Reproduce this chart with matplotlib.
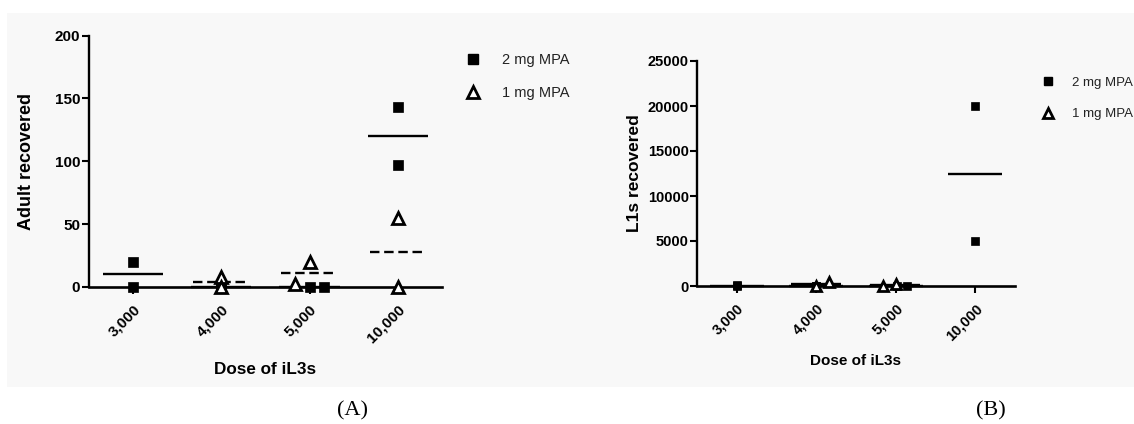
import numpy as np
import matplotlib
matplotlib.use("Agg")
import matplotlib.pyplot as plt
from matplotlib.lines import Line2D
from matplotlib.patches import Rectangle

# ---------------- data ----------------
doses = ["3,000", "4,000", "5,000", "10,000"]

# Panel A: adult recovered
adult_2mg = [[20, 0], [0, 0], [0, 0], [143, 97]]
adult_1mg = [[], [8, 0], [20, 2], [55, 0]]

# Panel B: L1s recovered
l1_2mg = [[100, 0], [0, 0], [0, 0], [20000, 5000]]
l1_1mg = [[], [0, 500], [200, 0], []]

series_labels = ["2 mg MPA", "1 mg MPA"]
ylabels = ["Adult recovered", "L1s recovered"]
xlabel = "Dose of iL3s"
panel_tags = ["(A)", "(B)"]

# horizontal scatter offsets for overlapping points (layout only)
off_A_2 = [[0, 0], [0, 0], [0, 0.165], [0, 0]]
off_A_1 = [[], [0, 0], [0, -0.16], [0, 0]]
off_B_2 = [[0, 0], [0, 0], [0.015, 0.14], [0, 0]]
off_B_1 = [[], [0, 0.16], [0, -0.16], []]

W, H = 1134, 424
fig = plt.figure(figsize=(W / 100, H / 100), dpi=100)
fig.patch.set_facecolor("white")

# light grey screenshot background
bg = Rectangle((7 / W, 1 - 387 / H), (W - 7) / W, (387 - 13) / H,
               transform=fig.transFigure, facecolor="#f8f8f8",
               edgecolor="none", zorder=-5)
fig.patches.append(bg)

BOLD = dict(family=["Liberation Sans", "DejaVu Sans"], weight="bold")
NARROW = ["Liberation Sans Narrow", "Liberation Sans", "DejaVu Sans"]


def make_panel(rect, d2, d1, o2, o1, ymax, yticks, ylabel, fs_tick, fs_ylab,
               fs_xlab, ylpad, xlpad, ms_sq, ms_tri, dashed_1mg, leg_xy,
               leg_fs, leg_space, leg_tpad):
    ax = fig.add_axes(rect)
    ax.set_facecolor("none")
    x = np.arange(len(doses))
    hw = 0.34
    for i in x:
        if d2[i]:
            ax.plot(i + np.array(o2[i]), d2[i], ls="none", marker="s", ms=ms_sq,
                    mfc="black", mec="black", mew=0.5, clip_on=False, zorder=4)
            ax.hlines(np.mean(d2[i]), i - hw, i + hw, colors="black", lw=1.7,
                      zorder=3, clip_on=False)
        if d1[i]:
            ax.plot(i + np.array(o1[i]), d1[i], ls="none", marker="^", ms=ms_tri,
                    mfc="white", mec="black", mew=2.0, clip_on=False, zorder=5)
            ls = (0, (4, 2)) if dashed_1mg else "-"
            ax.hlines(np.mean(d1[i]), i - hw + 0.02, i + hw - 0.03, colors="black",
                      lw=1.7, linestyles=[ls], zorder=3, clip_on=False)
    ax.set_xlim(-0.5, 3.5)
    ax.set_ylim(0, ymax)
    ax.set_yticks(yticks)
    ax.set_yticklabels([str(t) for t in yticks], fontsize=fs_tick, **BOLD)
    ax.set_xticks(x)
    ax.set_xticklabels(doses, rotation=45, ha="right", rotation_mode="anchor",
                       fontsize=fs_tick, **BOLD)
    ax.tick_params(axis="y", length=5, width=1.5, pad=1)
    ax.tick_params(axis="x", length=5, width=1.5, pad=6)
    for s in ["top", "right"]:
        ax.spines[s].set_visible(False)
    ax.spines["left"].set_linewidth(1.7)
    ax.spines["bottom"].set_linewidth(1.9)
    ax.set_ylabel(ylabel, fontsize=fs_ylab, labelpad=ylpad, **BOLD)
    ax.set_xlabel(xlabel, fontsize=fs_xlab, labelpad=xlpad, **BOLD)

    handles = [Line2D([], [], ls="none", marker="s", ms=ms_sq, mfc="black", mec="black"),
               Line2D([], [], ls="none", marker="^", ms=ms_tri, mfc="white",
                      mec="black", mew=2.0)]
    leg = ax.legend(handles, series_labels, loc="upper left",
                    bbox_to_anchor=(leg_xy[0] / W, 1 - leg_xy[1] / H),
                    bbox_transform=fig.transFigure, frameon=False,
                    handlelength=0.8, handletextpad=leg_tpad, labelspacing=leg_space,
                    borderpad=0, prop=dict(family=NARROW, size=leg_fs))
    for t in leg.get_texts():
        t.set_color("#222222")
    return ax


axA = make_panel([88.7 / W, 1 - 287 / H, (442 - 88.7) / W, (287 - 35.5) / H],
                 adult_2mg, adult_1mg, off_A_2, off_A_1, 200, [0, 50, 100, 150, 200],
                 ylabels[0], 11, 13, 12.3, 14, 12, 6.8, 8, True, (460, 46), 10.5, 1.3,
                 1.55)
axB = make_panel([697 / W, 1 - 286 / H, (1015 - 697) / W, (286 - 61) / H],
                 l1_2mg, l1_1mg, off_B_2, off_B_1, 25000,
                 [0, 5000, 10000, 15000, 20000, 25000],
                 ylabels[1], 10.5, 12.5, 11, 4, 8, 5.8, 6.8, False, (1036, 70), 9.5, 1.45,
                 1.4)

for tag, xc in zip(panel_tags, [353, 991]):
    fig.text(xc / W, 1 - 411 / H, tag, ha="center", va="center", fontsize=16,
             family=["Liberation Serif", "DejaVu Serif"])

fig.savefig("out.png", dpi=100)
